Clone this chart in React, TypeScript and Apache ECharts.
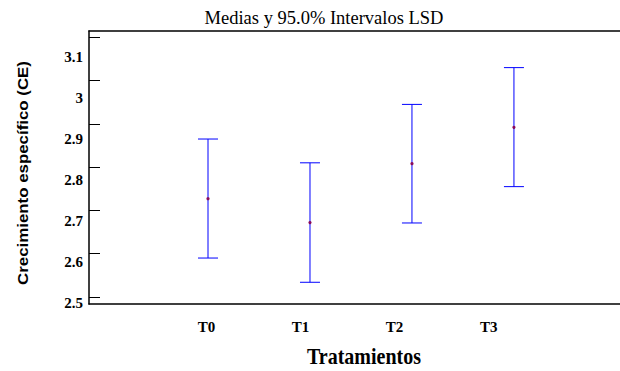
import React, { useEffect, useRef } from "react";
import * as echarts from "echarts";

// Treatment groups and their means with 95% LSD interval limits
const categories = ["T0", "T1", "T2", "T3"];
const means = [2.727, 2.672, 2.808, 2.892];
const lower = [2.59, 2.534, 2.671, 2.755];
const upper = [2.865, 2.81, 2.945, 3.03];
const yTicks = [2.5, 2.6, 2.7, 2.8, 2.9, 3.0, 3.1];

const titleText = "Medias y 95.0% Intervalos LSD";
const xTitle = "Tratamientos";
const yTitle = "Crecimiento específico (CE)";

const serif = "'Liberation Serif', 'Times New Roman', serif";
const sans = "'Liberation Sans', Arial, sans-serif";

export default function App() {
  const ref = useRef<HTMLDivElement>(null);

  useEffect(() => {
    if (!ref.current) return;
    const chart = echarts.init(ref.current, null, { renderer: "svg" });

    const data = categories.map((_, i) => [i, lower[i], upper[i], means[i]]);

    chart.setOption({
      animation: false,
      backgroundColor: "#ffffff",
      grid: { left: 89, right: 0, top: 31, bottom: 67 },
      xAxis: [
        {
          // data positions
          type: "value",
          min: -1.167,
          max: 4.04,
          axisLine: { show: true, onZero: false, lineStyle: { color: "#000", width: 1.5 } },
          axisTick: { show: false },
          axisLabel: { show: false },
          splitLine: { show: false },
        },
        {
          // treatment labels
          type: "value",
          position: "bottom",
          min: -1.2476,
          max: 4.395,
          axisLine: { show: false, onZero: false },
          axisTick: { show: false },
          splitLine: { show: false },
          axisLabel: {
            customValues: categories.map((_, i) => i),
            formatter: (v: number) => categories[Math.round(v)] ?? "",
            color: "#000",
            fontFamily: serif,
            fontWeight: "bold",
            fontSize: 15,
            margin: 15,
          },
        },
        {
          // top frame line
          type: "value",
          position: "top",
          min: 0,
          max: 1,
          axisLine: { show: true, onZero: false, lineStyle: { color: "#000", width: 1.5 } },
          axisTick: { show: false },
          axisLabel: { show: false },
          splitLine: { show: false },
        },
      ],
      yAxis: [
        {
          type: "value",
          position: "left",
          min: 2.4838,
          max: 3.1146,
          axisLine: { show: true, onZero: false, lineStyle: { color: "#000", width: 1.5 } },
          axisTick: {
            show: true,
            inside: true,
            length: 11,
            customValues: yTicks,
            lineStyle: { color: "#000", width: 1 },
          },
          axisLabel: { show: false },
          splitLine: { show: false },
        },
        {
          type: "value",
          position: "left",
          min: 2.4976,
          max: 3.1634,
          axisLine: { show: false, onZero: false },
          axisTick: { show: false },
          splitLine: { show: false },
          axisLabel: {
            customValues: yTicks,
            formatter: (v: number) => String(+v.toFixed(1)),
            color: "#000",
            fontFamily: serif,
            fontWeight: "bold",
            fontSize: 15,
            margin: 6,
          },
        },
      ],
      series: [
        {
          type: "custom",
          xAxisIndex: 0,
          yAxisIndex: 0,
          data,
          renderItem: (params: any, api: any) => {
            const x = api.value(0);
            const pHi = api.coord([x, api.value(2)]);
            const pLo = api.coord([x, api.value(1)]);
            const pM = api.coord([x, api.value(3)]);
            const half = 10;
            const stroke = { stroke: "#0000ff", lineWidth: 1 };
            return {
              type: "group",
              children: [
                { type: "line", shape: { x1: pHi[0], y1: pHi[1], x2: pLo[0], y2: pLo[1] }, style: stroke },
                { type: "line", shape: { x1: pHi[0] - half, y1: pHi[1], x2: pHi[0] + half, y2: pHi[1] }, style: stroke },
                { type: "line", shape: { x1: pLo[0] - half, y1: pLo[1], x2: pLo[0] + half, y2: pLo[1] }, style: stroke },
                { type: "circle", shape: { cx: pM[0], cy: pM[1], r: 1.6 }, style: { fill: "#8a0a5a" } },
              ],
            };
          },
        },
      ],
      graphic: [
        {
          type: "text",
          x: 324,
          y: 17.5,
          style: {
            text: titleText,
            font: `18.5px ${serif}`,
            fill: "#000",
            align: "center",
            verticalAlign: "middle",
          },
        },
        {
          type: "text",
          x: 364,
          y: 356.5,
          scaleY: 1.15,
          style: {
            text: xTitle,
            font: `bold 20px ${serif}`,
            fill: "#000",
            align: "center",
            verticalAlign: "middle",
          },
        },
        {
          type: "text",
          x: 23.3,
          y: 173,
          rotation: Math.PI / 2,
          scaleX: 1.125,
          style: {
            text: yTitle,
            font: `bold 15px ${sans}`,
            fill: "#000",
            align: "center",
            verticalAlign: "middle",
          },
        },
      ],
    });

    return () => chart.dispose();
  }, []);

  return (
    <div
      ref={ref}
      style={{ position: "fixed", left: 0, top: 0, width: 620, height: 371 }}
    />
  );
}
